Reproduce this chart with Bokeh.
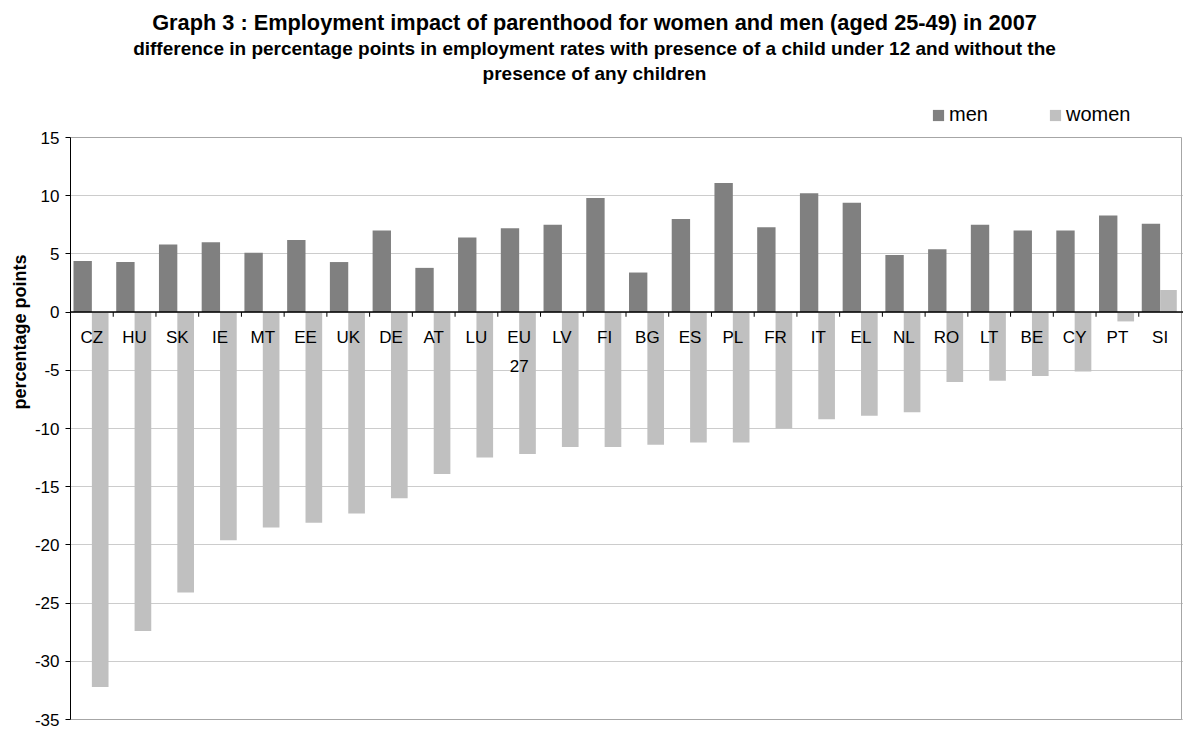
from bokeh.plotting import figure
from bokeh.models import Range1d, FixedTicker, Span, Title, Label, Legend, LegendItem, ColumnDataSource
from bokeh.core.properties import value
from bokeh.embed import file_html
from bokeh.resources import INLINE

categories = ["CZ", "HU", "SK", "IE", "MT", "EE", "UK", "DE", "AT", "LU", "EU 27", "LV", "FI",
              "BG", "ES", "PL", "FR", "IT", "EL", "NL", "RO", "LT", "BE", "CY", "PT", "SI"]
men = [4.4, 4.3, 5.8, 6.0, 5.1, 6.2, 4.3, 7.0, 3.8, 6.4, 7.2, 7.5, 9.8,
       3.4, 8.0, 11.1, 7.3, 10.2, 9.4, 4.9, 5.4, 7.5, 7.0, 7.0, 8.3, 7.6]
women = [-32.2, -27.4, -24.1, -19.6, -18.5, -18.1, -17.3, -16.0, -13.9, -12.5, -12.2, -11.6, -11.6,
         -11.4, -11.2, -11.2, -10.0, -9.2, -8.9, -8.6, -6.0, -5.9, -5.5, -5.1, -0.8, 1.9]
y_ticks = [-35, -30, -25, -20, -15, -10, -5, 0, 5, 10, 15]
Y_MIN, Y_MAX = -35, 15

title_text = "Graph 3 : Employment impact of parenthood for women and men (aged 25-49) in 2007"
subtitle_1 = "difference in percentage points in employment rates with presence of a child under 12 and without the"
subtitle_2 = "presence of any children"
y_label = "percentage points"

FONT = "Liberation Sans"
MEN_COLOR = "#808080"
WOMEN_COLOR = "#c0c0c0"
BORDER_COLOR = "#a6a6a6"

# ---- layout (pixels) ----
W, H = 1183, 729
LEFT, BOTTOM = 70, 6            # frame margins
FRAME_W = W - LEFT
FRAME_H = H - BOTTOM
PLOT_TOP_PX = 137               # screen y of the plot-area top (value Y_MAX)
PLOT_BOT_PX = 719               # screen y of the plot-area bottom (value Y_MIN)
PLOT_RIGHT_PX = 1181
ppu = (PLOT_BOT_PX - PLOT_TOP_PX) / (Y_MAX - Y_MIN)
y_start = Y_MIN - (H - BOTTOM - PLOT_BOT_PX) / ppu
y_end = Y_MAX + PLOT_TOP_PX / ppu

n = len(categories)
x_end = n * FRAME_W / (PLOT_RIGHT_PX - LEFT)
centers = [i + 0.5 for i in range(n)]
MEN_W = 0.43
WOMEN_W = 0.39

src = ColumnDataSource(dict(
    xm=[c - MEN_W / 2 for c in centers],
    xw=[c + WOMEN_W / 2 for c in centers],
    xc=centers,
    men=men,
    women=women,
    lab=[c.replace(" ", "\n") for c in categories],
    zero=[0] * n,
))

p = figure(width=W, height=H, output_backend="svg", toolbar_location=None,
           x_range=Range1d(0, x_end), y_range=Range1d(y_start, y_end),
           x_axis_location=None, title=None,
           min_border_left=LEFT, min_border_right=0, min_border_top=0, min_border_bottom=BOTTOM)
p.background_fill_color = "white"
p.border_fill_color = "white"
p.outline_line_color = None

# plot-area border
p.quad(left=0, right=n, bottom=Y_MIN, top=Y_MAX, fill_color=None,
       line_color=BORDER_COLOR, line_width=1)

r_men = p.vbar(x="xm", top="men", bottom=0, width=MEN_W, source=src,
               fill_color=MEN_COLOR, line_color=None)
r_women = p.vbar(x="xw", top="women", bottom=0, width=WOMEN_W, source=src,
                 fill_color=WOMEN_COLOR, line_color=None)

# y axis
ax = p.yaxis[0]
ax.ticker = FixedTicker(ticks=y_ticks)
ax.major_label_overrides = {t: str(t) for t in y_ticks}
ax.bounds = (Y_MIN, Y_MAX)
ax.minor_tick_line_color = None
ax.axis_line_color = "black"
ax.major_tick_line_color = "black"
ax.major_tick_out = 5
ax.major_tick_in = 0
ax.major_label_standoff = 6
ax.major_label_text_font = FONT
ax.major_label_text_font_size = "17px"
ax.major_label_text_color = "black"

p.xgrid.visible = False
p.ygrid.ticker = FixedTicker(ticks=y_ticks[:-1])
p.ygrid.grid_line_color = "#cccccc"
p.ygrid.grid_line_width = 1

# zero line (category axis)
p.add_layout(Span(location=0, dimension="width", line_color="black", line_width=1.5))

# category separator ticks
bounds = list(range(1, n))
p.segment(x0=bounds, y0=[0] * len(bounds), x1=bounds, y1=[-0.4] * len(bounds),
          line_color="black", line_width=1)

# category labels
p.text(x="xc", y="zero", text="lab", source=src, text_font=value(FONT),
       text_font_size="17px", text_align="center", text_baseline="top",
       y_offset=16, text_line_height=1.5, text_color="black")

# titles (screen units, measured from the frame's bottom-left corner)
def from_bottom(screen_y):
    return FRAME_H - screen_y

TITLE_X = 594 - LEFT
p.add_layout(Label(x=TITLE_X, y=from_bottom(22), x_units="screen", y_units="screen", text=title_text,
                   text_font=FONT, text_font_size="21.75px", text_font_style="bold",
                   text_align="center", text_baseline="middle", text_color="black"))
p.add_layout(Label(x=TITLE_X, y=from_bottom(48), x_units="screen", y_units="screen", text=subtitle_1,
                   text_font=FONT, text_font_size="19px", text_font_style="bold",
                   text_align="center", text_baseline="middle", text_color="black"))
p.add_layout(Label(x=TITLE_X, y=from_bottom(73), x_units="screen", y_units="screen", text=subtitle_2,
                   text_font=FONT, text_font_size="19px", text_font_style="bold",
                   text_align="center", text_baseline="middle", text_color="black"))

# legend above the plot area
legend = Legend(items=[LegendItem(label="men", renderers=[r_men]),
                       LegendItem(label="women", renderers=[r_women])],
                location=(931 - LEFT, from_bottom(115) - 11), orientation="horizontal",
                glyph_width=14, glyph_height=14, label_standoff=4, spacing=0,
                label_width=99, padding=0, margin=0,
                border_line_color=None, background_fill_alpha=0,
                label_text_font=FONT, label_text_font_size="20px", label_text_color="black")
p.add_layout(legend)

# y axis title
p.add_layout(Title(text=y_label, align="left", offset=FRAME_H - 409, standoff=4,
                   text_font=FONT, text_font_size="18px", text_font_style="bold",
                   text_color="black"), "left")

open("out.html", "w").write(file_html(p, INLINE))
